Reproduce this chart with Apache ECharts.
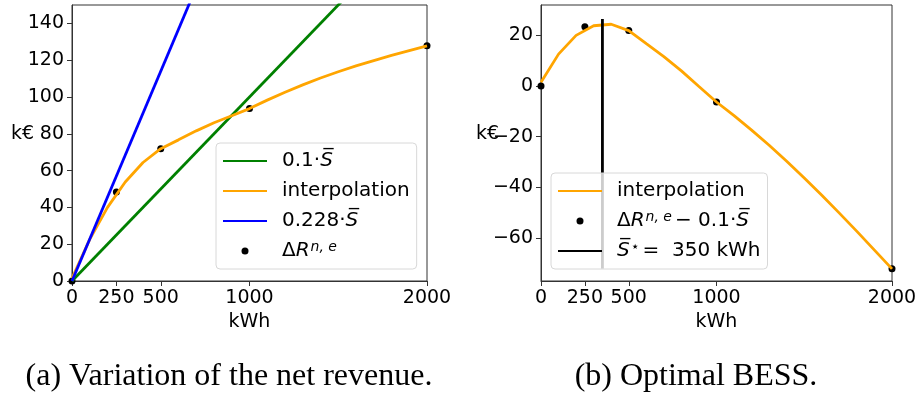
<!DOCTYPE html>
<html>
<head>
<meta charset="utf-8">
<script src="https://cdn.jsdelivr.net/npm/echarts@6/dist/echarts.min.js"></script>
<style>
html,body{margin:0;padding:0;background:#fff;}
#chart{width:920px;height:394px;}
</style>
</head>
<body>
<div id="chart"></div>
<script>
// ---- data ----
const xTicks = [0, 250, 500, 1000, 2000];
const leftYTicks = [0, 20, 40, 60, 80, 100, 120, 140];
const rightYTicks = [-60, -40, -20, 0, 20];

const interpX = [0, 100, 200, 300, 400, 500, 600, 700, 800, 900, 1000, 1100, 1200, 1300, 1400, 1500, 1600, 1700, 1800, 1900, 2000];
const interpLeft = [1.5, 22.6, 40.0, 53.8, 64.4, 71.9, 76.7, 81.6, 86.0, 89.8, 93.7, 98.3, 102.6, 106.6, 110.3, 113.7, 116.9, 119.8, 122.6, 125.2, 127.8];
const interpRight = [1.5, 12.6, 20.0, 23.8, 24.4, 21.9, 16.7, 11.6, 6.0, -0.2, -6.3, -11.7, -17.4, -23.4, -29.7, -36.3, -43.1, -50.2, -57.4, -64.8, -72.2];

const sampleX = [0, 250, 500, 1000, 2000];
const deltaR = [0, 48.4, 71.9, 93.7, 127.8];
const deltaRNet = [0, 23.4, 21.9, -6.3, -72.2];

const lineX = [0, 2000];
const greenY = [0, 200];   // 0.1 * S
const blueY = [0, 456];    // 0.228 * S

const optimalX = [350, 350];
const optimalY = [-72.2, 26.5];

// ---- helpers ----
const zip = (xs, ys) => xs.map((x, i) => [x, ys[i]]);
const FONT = 'DejaVu Sans';
const FS = 19;
const LFS = 20;
const LW = 2.8;
const minus = v => (v < 0 ? '\u2212' + (-v) : String(v));
const plain = v => String(v);

const axisCommon = {
  axisLine: { show: true, onZero: false, lineStyle: { color: '#333', width: 1 } },
  axisTick: { show: true, inside: false, length: 5, lineStyle: { color: '#333', width: 1 } },
  splitLine: { show: false },
  axisLabel: { color: '#000', fontFamily: FONT, fontSize: FS }
};

const rich = {
  i: { fontFamily: FONT, fontStyle: 'italic', fontSize: LFS, color: '#000', lineHeight: 22 },
  n: { fontFamily: FONT, fontSize: LFS, color: '#000', lineHeight: 22 },
  sup: { fontFamily: FONT, fontStyle: 'italic', fontSize: 14, color: '#000', lineHeight: 22, verticalAlign: 'top', padding: [0, 3, 7, 1] }
};

const legendNames = {
  'g': '{n|0.1·}{i|S\u0305}',
  'interp': '{n|interpolation}',
  'b': '{n|0.228·}{i|S\u0305}',
  'pts': '{n|Δ}{i|R}{sup|n, e}',
  'interp2': '{n|interpolation}',
  'pts2': '{n|Δ}{i|R}{sup|n, e}{n|− 0.1·}{i|S\u0305}',
  'vline': '{i|S\u0305}{sup|⋆}{n|=  350 kWh}'
};

const legendCommon = {
  orient: 'vertical',
  itemWidth: 44,
  itemHeight: 7,
  itemGap: 8,
  backgroundColor: 'rgba(255,255,255,0.8)',
  borderColor: '#d8d8d8',
  borderWidth: 1,
  borderRadius: 4,
  selectedMode: false,
  formatter: name => legendNames[name],
  textStyle: { fontFamily: FONT, fontSize: LFS, color: '#000', lineHeight: 22, padding: [0, 0, 0, 10], rich: rich }
};

const hideSym = { opacity: 0 };

const option = {
  animation: false,
  backgroundColor: '#fff',
  grid: [
    { left: 72, top: 5, width: 355, height: 276, show: true, borderColor: '#333', borderWidth: 1, backgroundColor: 'transparent' },
    { left: 541, top: 5, width: 351, height: 276, show: true, borderColor: '#333', borderWidth: 1, backgroundColor: 'transparent' }
  ],
  xAxis: [
    Object.assign({}, axisCommon, {
      type: 'value', gridIndex: 0, min: 0, max: 2000,
      name: 'kWh', nameLocation: 'middle', nameGap: 31,
      nameTextStyle: { fontFamily: FONT, fontSize: FS, color: '#000' },
      axisLabel: Object.assign({}, axisCommon.axisLabel, { margin: 8, customValues: xTicks, formatter: plain }),
      axisTick: Object.assign({}, axisCommon.axisTick, { customValues: xTicks })
    }),
    Object.assign({}, axisCommon, {
      type: 'value', gridIndex: 1, min: 0, max: 2000,
      name: 'kWh', nameLocation: 'middle', nameGap: 31,
      nameTextStyle: { fontFamily: FONT, fontSize: FS, color: '#000' },
      axisLabel: Object.assign({}, axisCommon.axisLabel, { margin: 8, customValues: xTicks, formatter: plain }),
      axisTick: Object.assign({}, axisCommon.axisTick, { customValues: xTicks })
    })
  ],
  yAxis: [
    Object.assign({}, axisCommon, {
      type: 'value', gridIndex: 0, min: 0, max: 150,
      axisLabel: Object.assign({}, axisCommon.axisLabel, { margin: 8, customValues: leftYTicks, formatter: plain }),
      axisTick: Object.assign({}, axisCommon.axisTick, { customValues: leftYTicks })
    }),
    Object.assign({}, axisCommon, {
      type: 'value', gridIndex: 1, min: -77, max: 32,
      axisLabel: Object.assign({}, axisCommon.axisLabel, { margin: 8, customValues: rightYTicks, formatter: minus }),
      axisTick: Object.assign({}, axisCommon.axisTick, { customValues: rightYTicks })
    })
  ],
  legend: [
    Object.assign({}, legendCommon, {
      left: 216, top: 143, padding: [7, 7, 7, 6],
      data: [
        { name: 'g', itemStyle: hideSym },
        { name: 'interp', itemStyle: hideSym },
        { name: 'b', itemStyle: hideSym },
        { name: 'pts', icon: 'circle', itemStyle: { opacity: 1, color: '#000' } }
      ]
    }),
    Object.assign({}, legendCommon, {
      left: 551, top: 173, padding: [7, 7, 7, 6],
      data: [
        { name: 'interp2', itemStyle: hideSym },
        { name: 'pts2', icon: 'circle', itemStyle: { opacity: 1, color: '#000' } },
        { name: 'vline', itemStyle: hideSym }
      ]
    })
  ],
  series: [
    { name: 'g', type: 'line', xAxisIndex: 0, yAxisIndex: 0, data: zip(lineX, greenY), symbol: 'none', clip: true,
      lineStyle: { color: '#008000', width: LW }, itemStyle: { color: '#008000' } },
    { name: 'interp', type: 'line', xAxisIndex: 0, yAxisIndex: 0, data: zip(interpX, interpLeft), symbol: 'none',
      lineStyle: { color: '#FFA500', width: LW }, itemStyle: { color: '#FFA500' } },
    { name: 'b', type: 'line', xAxisIndex: 0, yAxisIndex: 0, data: zip(lineX, blueY), symbol: 'none', clip: true,
      lineStyle: { color: '#0000FF', width: LW }, itemStyle: { color: '#0000FF' } },
    { name: 'pts', type: 'scatter', xAxisIndex: 0, yAxisIndex: 0, data: zip(sampleX, deltaR), symbolSize: 7,
      itemStyle: { color: '#000', opacity: 1 }, clip: false },

    { name: 'interp2', type: 'line', xAxisIndex: 1, yAxisIndex: 1, data: zip(interpX, interpRight), symbol: 'none',
      lineStyle: { color: '#FFA500', width: LW }, itemStyle: { color: '#FFA500' } },
    { name: 'pts2', type: 'scatter', xAxisIndex: 1, yAxisIndex: 1, data: zip(sampleX, deltaRNet), symbolSize: 7,
      itemStyle: { color: '#000', opacity: 1 }, clip: false },
    { name: 'vline', type: 'line', xAxisIndex: 1, yAxisIndex: 1, data: zip(optimalX, optimalY), symbol: 'none',
      lineStyle: { color: '#000', width: LW }, itemStyle: { color: '#000' } }
  ],
  graphic: [
    { type: 'text', left: 11, top: 125, style: { text: 'k€', font: FS + 'px "DejaVu Sans"', fill: '#000' } },
    { type: 'text', left: 476, top: 125, style: { text: 'k€', font: FS + 'px "DejaVu Sans"', fill: '#000' } },
    { type: 'text', x: 229, y: 377, style: { text: '(a) Variation of the net revenue.', font: '32px "Liberation Serif"', fill: '#000', textAlign: 'center', textVerticalAlign: 'middle' } },
    { type: 'text', x: 696, y: 377, style: { text: '(b) Optimal BESS.', font: '32px "Liberation Serif"', fill: '#000', textAlign: 'center', textVerticalAlign: 'middle' } }
  ]
};

const chart = echarts.init(document.getElementById('chart'), null, { renderer: 'canvas' });
chart.setOption(option);
</script>
</body>
</html>
